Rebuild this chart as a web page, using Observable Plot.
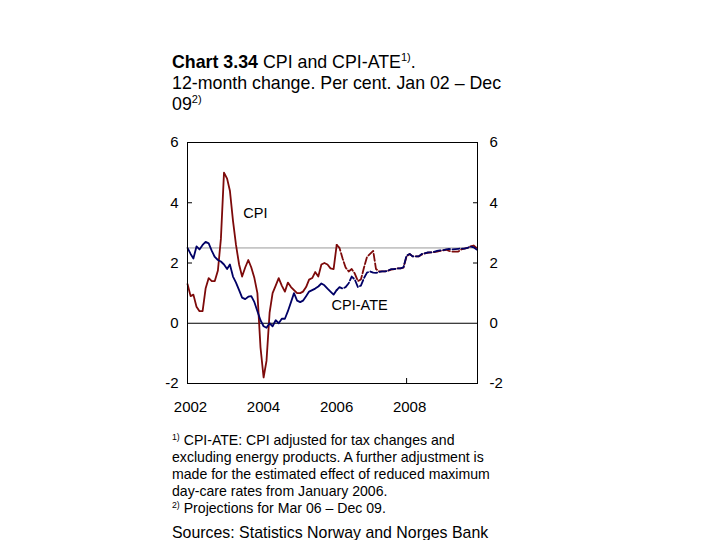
<!DOCTYPE html>
<html><head><meta charset="utf-8">
<script src="https://cdn.jsdelivr.net/npm/d3@7"></script>
<script src="https://cdn.jsdelivr.net/npm/@observablehq/plot@0.6"></script>
<style>
html,body{margin:0;padding:0;background:#fff}
body{width:720px;height:540px;overflow:hidden;position:relative;font-family:"Liberation Sans",Arial,sans-serif;color:#000}
#title{position:absolute;left:172px;top:52px;font-size:17.8px;line-height:21px;white-space:nowrap}
#chart{position:absolute;left:0;top:120px}
#notes{position:absolute;left:172px;top:432px;font-size:14.1px;line-height:17px;white-space:nowrap}
#src{position:absolute;left:172px;top:524px;font-size:15.9px;white-space:nowrap}
sup{font-size:0.62em;vertical-align:0;position:relative;top:-0.6em;line-height:0}
</style></head>
<body>
<div id="title"><b>Chart 3.34</b> CPI and CPI-ATE<sup>1)</sup>.<br>12-month change. Per cent. Jan 02 – Dec<br>09<sup>2)</sup></div>
<div id="chart"></div>
<div id="notes"><sup>1)</sup> CPI-ATE: CPI adjusted for tax changes and<br>excluding energy products. A further adjustment is<br>made for the estimated effect of reduced maximum<br>day-care rates from January 2006.<br><sup>2)</sup> Projections for Mar 06 – Dec 09.</div>
<div id="src">Sources: Statistics Norway and Norges Bank</div>
<script>
// Monthly series, Jan 2002 – Dec 2009 (actual to Feb 06, projections Mar 06 – Dec 09)
const firstMonth = [2002, 0];
const lastActualIndex = 49; // Feb 2006
const cpi = [
  1.3, 0.9, 0.95, 0.55, 0.4, 0.4, 1.15, 1.5, 1.4, 1.4, 1.75, 2.8,
  5.0, 4.8, 4.4, 3.4, 2.6, 1.95, 1.55, 1.85, 2.1, 1.85, 1.5, 1.0,
  -0.8, -1.8, -1.25, 0.35, 1.0, 1.25, 1.5, 1.25, 1.05, 1.35, 1.2, 1.1,
  1.0, 1.0, 1.05, 1.2, 1.45, 1.5, 1.7, 1.55, 1.95, 2.0, 1.95, 1.82,
  1.8, 2.6,
  2.5, 2.15, 1.85, 1.72, 1.8, 1.65, 1.4, 1.45, 1.85, 2.2,
  2.3, 2.4, 1.8, 1.72, 1.72, 1.72, 1.75, 1.78, 1.8, 1.82,
  1.82, 1.85, 2.22, 2.3, 2.22, 2.22, 2.22, 2.28, 2.32, 2.34,
  2.35, 2.36, 2.38, 2.4, 2.42, 2.44, 2.4, 2.38, 2.38, 2.38,
  2.45, 2.48, 2.5, 2.55, 2.58, 2.5
];
const cpiAte = [
  2.5, 2.3, 2.15, 2.55, 2.45, 2.6, 2.7, 2.65, 2.4, 2.2, 2.1, 2.05,
  1.95, 1.8, 1.95, 1.55, 1.35, 1.1, 0.85, 0.8, 0.88, 0.9, 0.7, 0.4,
  0.1, -0.1, -0.15, 0.0, -0.1, 0.1, 0.0, 0.15, 0.15, 0.4, 0.7, 1.0,
  0.75, 0.7, 0.75, 0.9, 1.05, 1.1, 1.15, 1.22, 1.32, 1.26, 1.15, 1.05,
  0.95, 1.1,
  1.2, 1.15, 1.2, 1.33, 1.55, 1.45, 1.2, 1.25, 1.5, 1.68,
  1.72, 1.68, 1.67, 1.7, 1.72, 1.72, 1.75, 1.8, 1.8, 1.82,
  1.82, 1.86, 2.25, 2.3, 2.22, 2.22, 2.22, 2.3, 2.32, 2.35,
  2.35, 2.37, 2.4, 2.42, 2.43, 2.45, 2.47, 2.45, 2.46, 2.47,
  2.48, 2.48, 2.5, 2.55, 2.52, 2.45
];
const inflationTarget = 2.5;
const yTicks = [-2, 0, 2, 4, 6];
const yInnerTicks = [2, 4];
const xTickYears = [2002, 2004, 2006, 2008];
const xInnerTickYears = [2008];
const seriesLabels = [
  {date: new Date(2003, 6, 13), value: 3.65, text: "CPI"},
  {date: new Date(2005, 11, 12), value: 0.6, text: "CPI-ATE"}
];

const red = "#7d0a0a", navy = "#000066";
const t0 = new Date(firstMonth[0], firstMonth[1], 1);
const rows = cpi.map((v, i) => ({date: d3.timeMonth.offset(t0, i), cpi: v, ate: cpiAte[i]}));
const actual = rows.slice(0, lastActualIndex + 1);
const proj = rows.slice(lastActualIndex);
const yr = y => new Date(y, 0, 1);
const fmt = d => d < 0 ? "-" + Math.abs(d) : String(d);
const dash = "7,2.5";

const chart = Plot.plot({
  width: 720, height: 310,
  marginLeft: 187, marginRight: 243, marginTop: 22, marginBottom: 47,
  style: {fontFamily: "Liberation Sans, Arial, sans-serif", background: "transparent", color: "#000"},
  x: {domain: [t0, new Date(2009, 11, 10)], label: null},
  y: {domain: [-2, 6], label: null},
  marks: [
    Plot.ruleY([inflationTarget], {stroke: "#9a9a9a", strokeWidth: 1}),
    Plot.ruleY([0], {stroke: "#000", strokeWidth: 1}),
    Plot.line(actual, {x: "date", y: "cpi", stroke: red, strokeWidth: 1.8}),
    Plot.line(proj, {x: "date", y: "cpi", stroke: red, strokeWidth: 1.8, strokeDasharray: dash}),
    Plot.line(actual, {x: "date", y: "ate", stroke: navy, strokeWidth: 1.8}),
    Plot.line(proj, {x: "date", y: "ate", stroke: navy, strokeWidth: 1.8, strokeDasharray: dash}),
    Plot.frame({stroke: "#000", strokeWidth: 1}),
    Plot.axisY(yTicks, {anchor: "left", tickSize: 0, tickPadding: 9, fontSize: 15, tickFormat: fmt, label: null}),
    Plot.axisY(yTicks, {anchor: "right", tickSize: 0, tickPadding: 12, fontSize: 15, tickFormat: fmt, label: null}),
    Plot.axisY(yInnerTicks, {anchor: "left", tickSize: 5, dx: 5, fill: "none", label: null}),
    Plot.axisY(yInnerTicks, {anchor: "right", tickSize: 5, dx: -5, fill: "none", label: null}),
    Plot.axisX(xTickYears.map(yr), {anchor: "bottom", tickSize: 0, tickPadding: 18, fontSize: 15, dx: 3, tickFormat: d3.timeFormat("%Y"), label: null}),
    Plot.axisX(xInnerTickYears.map(yr), {anchor: "bottom", tickSize: 5, dy: -5, fill: "none", label: null}),
    Plot.text(seriesLabels, {x: "date", y: "value", text: "text", textAnchor: "start", fontSize: 14.5, fill: "#000"})
  ]
});
document.getElementById("chart").appendChild(chart);
</script>
</body></html>
